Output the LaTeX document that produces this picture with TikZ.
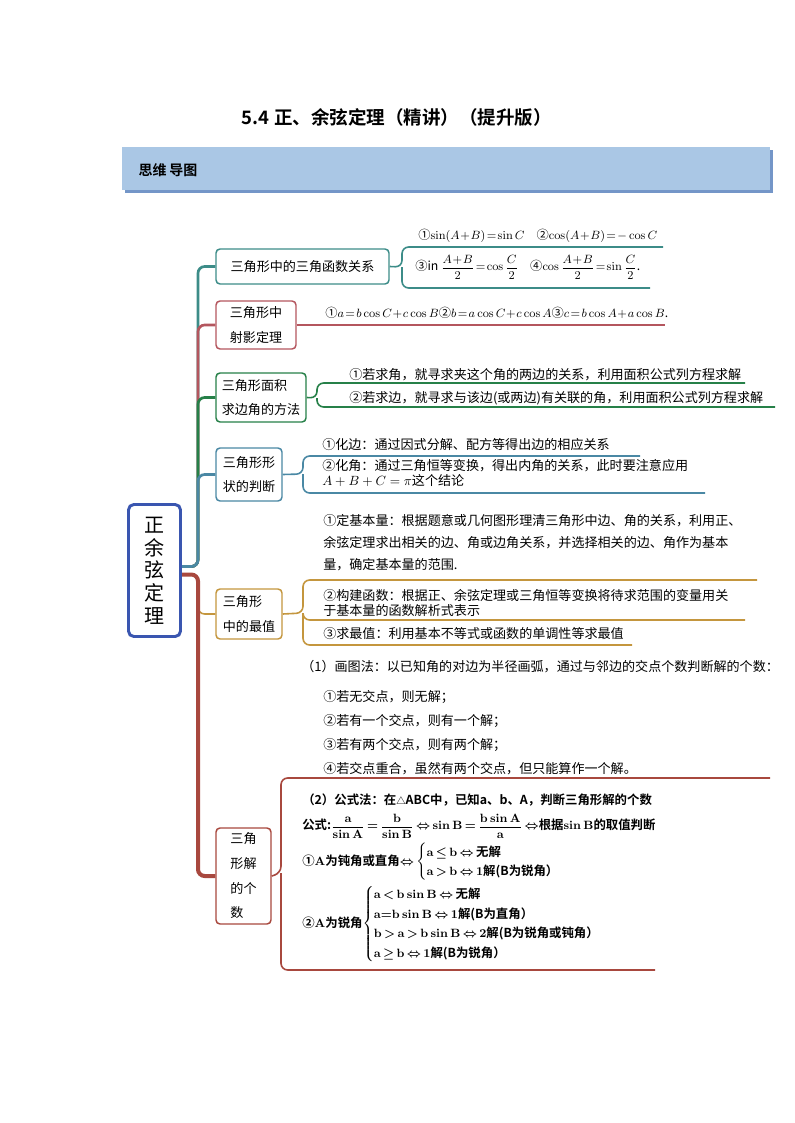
\documentclass[tikz,border=0pt]{standalone}
\usepackage{amsmath,amssymb}
\usepackage[no-math]{fontspec}
\setmainfont{Noto Sans CJK SC}[BoldFont={Noto Sans CJK SC Bold}]
\usetikzlibrary{positioning,backgrounds}
\newdimen\pxu \pxu=0.75pt
\renewcommand{\arraystretch}{1.3}
\newcommand{\tightmath}{\medmuskip=1mu\relax\thickmuskip=2mu\relax}
\newcommand{\boldtight}{\thickmuskip=3mu\relax}

\definecolor{rootblue}{RGB}{58,86,176}
\definecolor{cTeal}{RGB}{60,140,136}
\definecolor{cPink}{RGB}{180,86,94}
\definecolor{cGreen}{RGB}{38,128,72}
\definecolor{cSteel}{RGB}{74,136,164}
\definecolor{cGold}{RGB}{196,150,62}
\definecolor{cRed}{RGB}{168,72,62}
\definecolor{barblue}{RGB}{170,199,229}
\definecolor{barshade}{RGB}{116,150,200}

\tikzset{
  rootbox/.style={draw=rootblue, line width=2.2pt, rounded corners=4pt, fill=white, inner sep=0pt,
    minimum width=52\pxu, minimum height=132\pxu, align=center, font=\fontsize{15}{17}\selectfont},
  topic/.style={draw, rounded corners=3pt, line width=1.1pt, fill=white, inner sep=0pt, align=left,
    font=\fontsize{9.8}{18.5}\selectfont},
  leaf/.style={inner sep=0pt, anchor=west, align=left, font=\fontsize{9.8}{12}\selectfont},
  mathleaf/.style={leaf, font=\fontsize{9.2}{11}\selectfont, execute at begin node=\tightmath},
  boldleaf/.style={leaf, font=\fontsize{9.3}{11.5}\selectfont\bfseries\boldmath, execute at begin node=\boldtight},
  branch/.style={line width=2pt, rounded corners=5pt},
  twig/.style={line width=1.2pt, rounded corners=5pt},
}

\begin{document}
\begin{tikzpicture}[x=0.75pt,y=-0.75pt]
\useasboundingbox (0,0) rectangle (794,1123);

% title and header bar
\node[font=\fontsize{13.9}{15}\selectfont\bfseries] (title) at (397,117) {5.4 正、余弦定理（精讲）（提升版）};
\fill[barshade] (125,150) rectangle (773,193);
\fill[barblue] (122,147) rectangle (770,190);
\node[anchor=west, font=\fontsize{10.5}{12}\selectfont\bfseries] (hdr) at (134,170) {思维\hspace{2pt}导图};

% root and main topics
\node[rootbox] (root) at (154.5,570.5) {正\\余\\弦\\定\\理};
\node[topic, draw=cTeal, minimum width=173\pxu, minimum height=35\pxu] (b1) at (302.5,266.5) {三角形中的三角函数关系};
\node[topic, draw=cPink, minimum width=80\pxu, minimum height=48\pxu] (b2) at (256,325) {三角形中\\射影定理};
\node[topic, draw=cGreen, minimum width=90\pxu, minimum height=49\pxu] (b3) at (261,397.5) {三角形面积\\求边角的方法};
\node[topic, draw=cSteel, minimum width=66\pxu, minimum height=53\pxu] (b4) at (249,474.5) {三角形形\\状的判断};
\node[topic, draw=cGold, minimum width=66\pxu, minimum height=50\pxu] (b5) at (249,614) {三角形\\中的最值};
\node[topic, draw=cRed, minimum width=55\pxu, minimum height=96\pxu] (b6) at (243.5,876) {三角\\形解\\的个\\数};

% leaves
\node[mathleaf] (l11) at (418,236) {①$\sin(A+B)=\sin C$\hspace{9pt}②$\cos(A+B)=-\cos C$};
\node[mathleaf] (l12) at (415,267) {③in $\dfrac{A+B}{2}=\cos\dfrac{C}{2}$\hspace{9pt}④$\cos\dfrac{A+B}{2}=\sin\dfrac{C}{2}$.};
\node[mathleaf] (l2) at (325,313) {①$a=b\cos C+c\cos B$②$b=a\cos C+c\cos A$③$c=b\cos A+a\cos B$.};
\node[leaf] (l31) at (349,375) {①若求角，就寻求夹这个角的两边的关系，利用面积公式列方程求解};
\node[leaf] (l32) at (349,398) {②若求边，就寻求与该边(或两边)有关联的角，利用面积公式列方程求解};
\node[leaf] (l41) at (322,445) {①化边：通过因式分解、配方等得出边的相应关系};
\node[leaf, font=\fontsize{9.8}{11.25}\selectfont] (l42) at (322,473.5) {②化角：通过三角恒等变换，得出内角的关系，此时要注意应用\\$A+B+C=\pi$这个结论};
\node[leaf, font=\fontsize{9.8}{16.5}\selectfont] (l51) at (323,543) {①定基本量：根据题意或几何图形理清三角形中边、角的关系，利用正、\\余弦定理求出相关的边、角或边角关系，并选择相关的边、角作为基本\\量，确定基本量的范围.};
\node[leaf, font=\fontsize{9.8}{11.25}\selectfont] (l52) at (323,602.5) {②构建函数：根据正、余弦定理或三角恒等变换将待求范围的变量用关\\于基本量的函数解析式表示};
\node[leaf] (l53) at (323,634) {③求最值：利用基本不等式或函数的单调性等求最值};
\node[leaf] (l61a) at (301,667) {（1）画图法：以已知角的对边为半径画弧，通过与邻边的交点个数判断解的个数：};
\node[leaf, font=\fontsize{9.8}{18}\selectfont] (l61b) at (323,733) {①若无交点，则无解；\\②若有一个交点，则有一个解；\\③若有两个交点，则有两个解；\\④若交点重合，虽然有两个交点，但只能算作一个解。};
\node[boldleaf] (l62a) at (302,800) {（2）公式法：在{\scriptsize △}ABC中，已知a、b、A，判断三角形解的个数};
\node[boldleaf] (l62b) at (302,826) {公式:$\dfrac{\mathrm{a}}{\sin\mathrm{A}}=\dfrac{\mathrm{b}}{\sin\mathrm{B}}\Leftrightarrow\sin\mathrm{B}=\dfrac{\mathrm{b}\sin\mathrm{A}}{\mathrm{a}}\Leftrightarrow$根据$\sin\mathrm{B}$的取值判断};
\node[boldleaf] (l62c) at (302,862) {①$\mathrm{A}$为钝角或直角$\Leftrightarrow\left\{\begin{array}{@{}l@{}}
  \mathrm{a}\le\mathrm{b}\Leftrightarrow\text{无解}\\
  \mathrm{a}>\mathrm{b}\Leftrightarrow1\text{解(B为锐角）}
  \end{array}\right.$};
\node[boldleaf] (l62d) at (302,924) {②$\mathrm{A}$为锐角$\left\{\begin{array}{@{}l@{}}
  \mathrm{a}<\mathrm{b}\sin\mathrm{B}\Leftrightarrow\text{无解}\\
  \mathrm{a}{=}\mathrm{b}\sin\mathrm{B}\Leftrightarrow1\text{解(B为直角）}\\
  \mathrm{b}>\mathrm{a}>\mathrm{b}\sin\mathrm{B}\Leftrightarrow2\text{解(B为锐角或钝角）}\\
  \mathrm{a}\ge\mathrm{b}\Leftrightarrow1\text{解(B为锐角）}
  \end{array}\right.$};

% joints and line ends
\coordinate (rootU) at ([yshift=3pt]root.east);
\coordinate (rootD) at ([yshift=-3pt]root.east);
\coordinate (trunk) at (198,570);
\coordinate (k1) at (402,267);
\coordinate (e11) at (663,247);
\coordinate (e12) at (650,288);
\coordinate (e2) at (665,325);
\coordinate (k3) at (317,398);
\coordinate (e31) at (745,383);
\coordinate (e32) at (775,407);
\coordinate (k4) at (303,474);
\coordinate (e41) at (640,456);
\coordinate (e42) at (705,493);
\coordinate (k5) at (303,613);
\coordinate (e51) at (757,580);
\coordinate (e52) at (745,620);
\coordinate (e53) at (632,645);
\coordinate (k6) at (281,873);
\coordinate (e61) at (770,778);
\coordinate (e62) at (655,970);

\begin{scope}[on background layer]
  % main branches
  \draw[branch, cTeal] (rootU) -- (rootU -| trunk) -- (trunk |- b1.west) -- (b1.west);
  \draw[branch, cPink] (rootU) -- (rootU -| trunk) -- (trunk |- b2.west) -- (b2.west);
  \draw[branch, cGreen] (rootU) -- (rootU -| trunk) -- (trunk |- b3.west) -- (b3.west);
  \draw[branch, cSteel] (rootU) -- (rootU -| trunk) -- (trunk |- b4.west) -- (b4.west);
  \draw[branch, cGold, line width=1.2pt] (rootD) -- (rootD -| trunk) -- (trunk |- b5.west) -- (b5.west);
  \draw[branch, cRed, line width=3pt] (rootD) -- (rootD -| trunk) -- (trunk |- b6.west) -- (b6.west);

  % leaf lines
  \draw[twig, cTeal] (b1.east) -- (k1) -- (k1 |- e11) -- (e11);
  \draw[twig, cTeal] (k1) -- (k1 |- e12) -- (e12);
  \draw[twig, cPink] (b2.east) -- (b2.east -| e2);
  \draw[twig, cGreen] (b3.east) -- (k3) -- (k3 |- e31) -- (e31);
  \draw[twig, cGreen] (k3) -- (k3 |- e32) -- (e32);
  \draw[twig, cSteel] (b4.east) -- (k4) -- (k4 |- e41) -- (e41);
  \draw[twig, cSteel] (k4) -- (k4 |- e42) -- (e42);
  \draw[twig, cGold] (b5.east) -- (k5) -- (k5 |- e51) -- (e51);
  \draw[twig, cGold] (k5) -- (k5 |- e52) -- (e52);
  \draw[twig, cGold] (k5) -- (k5 |- e53) -- (e53);
  \draw[twig, cRed] (b6.east) -- (k6) -- (k6 |- e61) -- (e61);
  \draw[twig, cRed] (k6) -- (k6 |- e62) -- (e62);
\end{scope}
\end{tikzpicture}
\end{document}
